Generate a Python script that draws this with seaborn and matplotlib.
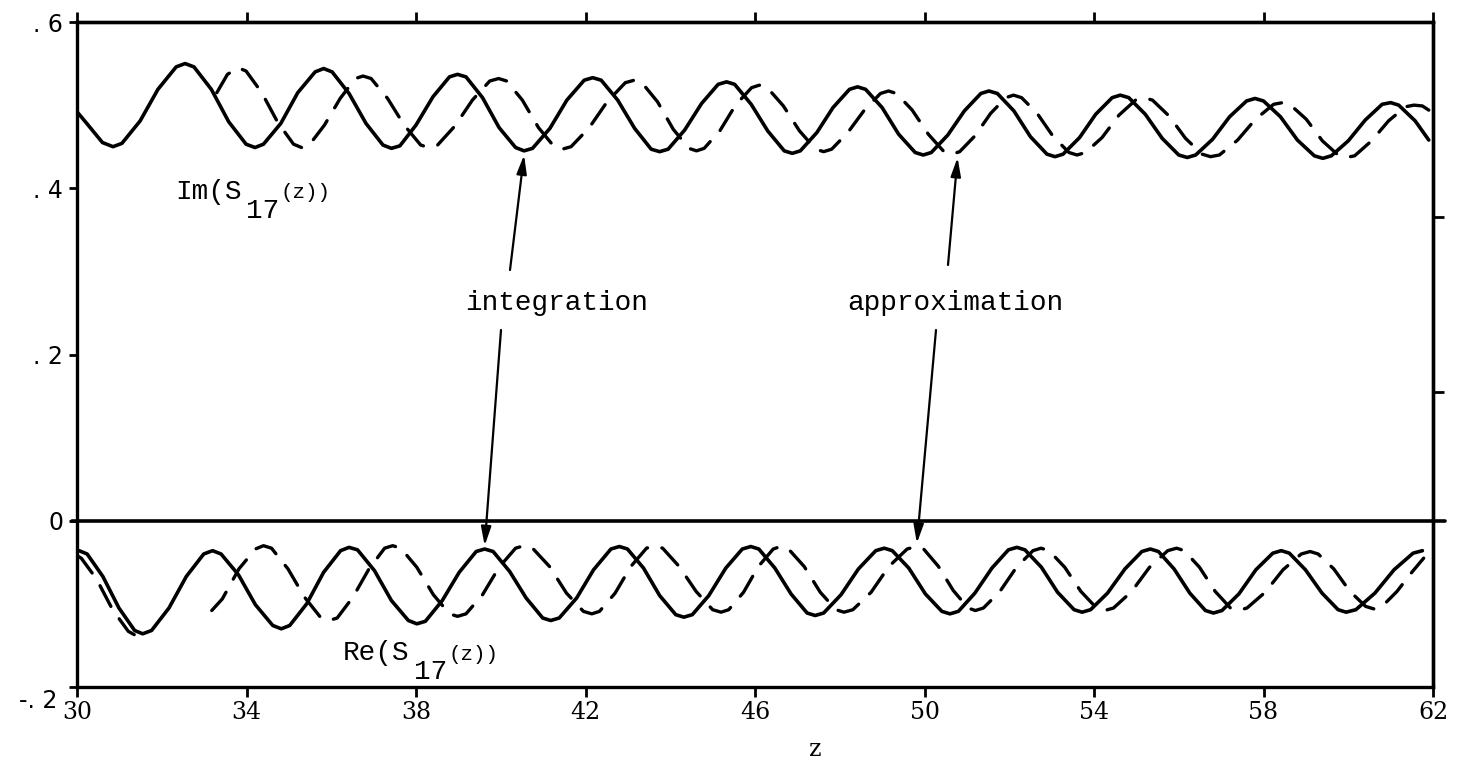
import numpy as np
import pandas as pd
import matplotlib
matplotlib.use("Agg")
import matplotlib.pyplot as plt
import matplotlib.transforms as mtrans
import seaborn as sns

# ---------------- data ----------------
# Im(S17(z)) by integration (solid)
im_int_z = [30.00, 30.23, 30.60, 30.85, 31.06, 31.49, 31.91, 32.34, 32.55, 32.76, 33.17, 33.58, 33.99, 34.20,
            34.40, 34.81, 35.21, 35.62, 35.82, 36.02, 36.42, 36.82, 37.22, 37.42, 37.62, 38.00, 38.40, 38.79,
            38.98, 39.18, 39.57, 39.96, 40.35, 40.55, 40.75, 41.16, 41.56, 41.97, 42.17, 42.37, 42.76, 43.16,
            43.55, 43.75, 43.95, 44.34, 44.74, 45.13, 45.33, 45.52, 45.91, 46.30, 46.69, 46.88, 47.07, 47.46,
            47.84, 48.23, 48.42, 48.61, 49.00, 49.39, 49.78, 49.97, 50.16, 50.55, 50.94, 51.33, 51.52, 51.72,
            52.11, 52.50, 52.89, 53.08, 53.27, 53.66, 54.04, 54.43, 54.62, 54.82, 55.21, 55.61, 56.00, 56.20,
            56.40, 56.80, 57.20, 57.60, 57.80, 58.00, 58.40, 58.80, 59.20, 59.40, 59.60, 60.00, 60.40, 60.80,
            61.00, 61.19, 61.58, 61.90]
im_int_v = [0.492, 0.478, 0.455, 0.450, 0.454, 0.481, 0.519, 0.546, 0.550, 0.546, 0.519, 0.480, 0.453, 0.449,
            0.453, 0.478, 0.515, 0.540, 0.544, 0.540, 0.514, 0.478, 0.452, 0.448, 0.451, 0.476, 0.510, 0.534,
            0.537, 0.534, 0.509, 0.473, 0.449, 0.445, 0.448, 0.472, 0.506, 0.530, 0.533, 0.530, 0.506, 0.472,
            0.447, 0.444, 0.447, 0.470, 0.502, 0.525, 0.528, 0.525, 0.501, 0.469, 0.445, 0.442, 0.445, 0.467,
            0.497, 0.519, 0.522, 0.519, 0.497, 0.465, 0.443, 0.440, 0.443, 0.464, 0.493, 0.514, 0.517, 0.514,
            0.493, 0.462, 0.441, 0.438, 0.441, 0.461, 0.489, 0.509, 0.512, 0.509, 0.489, 0.460, 0.440, 0.437,
            0.440, 0.459, 0.486, 0.505, 0.508, 0.505, 0.486, 0.458, 0.439, 0.436, 0.439, 0.457, 0.482, 0.501,
            0.503, 0.500, 0.481, 0.458]

# Im(S17(z)) by approximation (dashed)
im_app_z = [33.30, 33.55, 33.80, 33.99, 34.36, 34.74, 35.11, 35.30, 35.48, 35.84, 36.21, 36.57, 36.75, 36.94,
            37.33, 37.72, 38.11, 38.30, 38.51, 38.92, 39.33, 39.74, 39.95, 40.14, 40.51, 40.89, 41.26, 41.45,
            41.66, 42.09, 42.51, 42.94, 43.15, 43.33, 43.70, 44.07, 44.44, 44.62, 44.80, 45.17, 45.54, 45.92,
            46.10, 46.29, 46.67, 47.05, 47.43, 47.62, 47.81, 48.19, 48.58, 48.96, 49.15, 49.34, 49.71, 50.09,
            50.46, 50.65, 50.83, 51.19, 51.56, 51.92, 52.10, 52.29, 52.66, 53.04, 53.41, 53.60, 53.80, 54.19,
            54.59, 54.98, 55.18, 55.38, 55.77, 56.16, 56.55, 56.75, 56.96, 57.39, 57.81, 58.24, 58.45, 58.64,
            59.01, 59.39, 59.76, 59.95, 60.15, 60.55, 60.95, 61.35, 61.55, 61.75, 61.90]
im_app_v = [0.515, 0.537, 0.545, 0.541, 0.515, 0.479, 0.453, 0.449, 0.452, 0.476, 0.508, 0.532, 0.535, 0.532,
            0.508, 0.476, 0.452, 0.449, 0.452, 0.475, 0.506, 0.529, 0.532, 0.529, 0.506, 0.473, 0.450, 0.447,
            0.450, 0.473, 0.504, 0.527, 0.530, 0.527, 0.504, 0.471, 0.448, 0.445, 0.448, 0.469, 0.500, 0.521,
            0.524, 0.521, 0.499, 0.469, 0.447, 0.444, 0.447, 0.467, 0.494, 0.514, 0.517, 0.514, 0.494, 0.465,
            0.444, 0.441, 0.444, 0.463, 0.490, 0.509, 0.512, 0.509, 0.490, 0.462, 0.443, 0.440, 0.443, 0.461,
            0.488, 0.506, 0.509, 0.506, 0.487, 0.460, 0.441, 0.438, 0.440, 0.458, 0.483, 0.501, 0.503, 0.500,
            0.483, 0.457, 0.440, 0.437, 0.439, 0.457, 0.481, 0.498, 0.500, 0.499, 0.494]

# Re(S17(z)) by integration (solid)
re_int_z = [30.05, 30.24, 30.61, 30.99, 31.36, 31.55, 31.76, 32.17, 32.58, 32.99, 33.20, 33.40, 33.81, 34.21,
            34.62, 34.82, 35.02, 35.42, 35.82, 36.22, 36.42, 36.62, 37.02, 37.42, 37.82, 38.02, 38.22, 38.62,
            39.02, 39.42, 39.62, 39.82, 40.21, 40.60, 40.99, 41.18, 41.38, 41.79, 42.19, 42.60, 42.80, 42.99,
            43.37, 43.75, 44.13, 44.32, 44.52, 44.91, 45.31, 45.70, 45.90, 46.09, 46.47, 46.85, 47.23, 47.42,
            47.62, 48.03, 48.44, 48.85, 49.05, 49.24, 49.63, 50.02, 50.41, 50.60, 50.80, 51.19, 51.59, 51.98,
            52.18, 52.37, 52.76, 53.14, 53.53, 53.72, 53.92, 54.32, 54.73, 55.13, 55.33, 55.52, 55.89, 56.26,
            56.63, 56.82, 57.02, 57.42, 57.82, 58.22, 58.42, 58.61, 58.99, 59.38, 59.76, 59.95, 60.18, 60.63,
            61.08, 61.53, 61.75]
re_int_v = [-0.036, -0.040, -0.067, -0.105, -0.132, -0.136, -0.132, -0.105, -0.067, -0.040, -0.036, -0.040,
            -0.065, -0.101, -0.126, -0.130, -0.126, -0.100, -0.062, -0.036, -0.032, -0.035, -0.060, -0.096,
            -0.120, -0.124, -0.121, -0.096, -0.062, -0.037, -0.034, -0.037, -0.061, -0.093, -0.117, -0.120,
            -0.117, -0.093, -0.059, -0.034, -0.031, -0.034, -0.057, -0.090, -0.113, -0.116, -0.113, -0.090,
            -0.057, -0.034, -0.031, -0.034, -0.057, -0.088, -0.111, -0.114, -0.111, -0.089, -0.058, -0.036,
            -0.033, -0.036, -0.057, -0.088, -0.109, -0.112, -0.109, -0.087, -0.057, -0.035, -0.032, -0.035,
            -0.056, -0.086, -0.107, -0.110, -0.107, -0.087, -0.058, -0.037, -0.034, -0.037, -0.058, -0.087,
            -0.108, -0.111, -0.108, -0.088, -0.059, -0.039, -0.036, -0.039, -0.059, -0.087, -0.107, -0.110,
            -0.107, -0.087, -0.059, -0.039, -0.036]

# Re(S17(z)) by approximation (dashed): a short piece at the start and the main piece
re_app_a_z = [30.00, 30.10, 30.46, 30.84, 31.21, 31.35]
re_app_a_v = [-0.042, -0.045, -0.070, -0.107, -0.133, -0.137]
re_app_b_z = [33.18, 33.43, 33.82, 34.21, 34.40, 34.59, 34.98, 35.37, 35.76, 35.95, 36.14, 36.51, 36.89, 37.26,
              37.45, 37.64, 38.02, 38.41, 38.79, 38.98, 39.18, 39.57, 39.96, 40.35, 40.55, 40.75, 41.15, 41.55,
              41.95, 42.15, 42.33, 42.70, 43.07, 43.44, 43.62, 43.82, 44.21, 44.61, 45.00, 45.20, 45.38, 45.73,
              46.08, 46.43, 46.60, 46.79, 47.16, 47.54, 47.91, 48.10, 48.31, 48.74, 49.16, 49.59, 49.80, 49.98,
              50.33, 50.68, 51.03, 51.20, 51.39, 51.78, 52.17, 52.56, 52.75, 52.94, 53.31, 53.69, 54.06, 54.25,
              54.46, 54.89, 55.31, 55.74, 55.95, 56.13, 56.49, 56.86, 57.22, 57.40, 57.61, 58.04, 58.46, 58.89,
              59.10, 59.29, 59.66, 60.04, 60.41, 60.60, 60.80, 61.15, 61.50, 61.78]
re_app_b_v = [-0.108, -0.094, -0.058, -0.034, -0.030, -0.033, -0.058, -0.092, -0.117, -0.120, -0.117, -0.092,
              -0.058, -0.033, -0.030, -0.033, -0.056, -0.089, -0.112, -0.115, -0.112, -0.089, -0.056, -0.033,
              -0.030, -0.033, -0.055, -0.087, -0.109, -0.112, -0.109, -0.087, -0.055, -0.033, -0.030, -0.033,
              -0.055, -0.085, -0.107, -0.110, -0.107, -0.086, -0.055, -0.034, -0.031, -0.034, -0.055, -0.086,
              -0.107, -0.110, -0.107, -0.086, -0.055, -0.034, -0.031, -0.034, -0.055, -0.084, -0.105, -0.108,
              -0.105, -0.085, -0.056, -0.036, -0.033, -0.036, -0.056, -0.085, -0.105, -0.108, -0.105, -0.085,
              -0.056, -0.036, -0.033, -0.036, -0.056, -0.085, -0.105, -0.108, -0.105, -0.086, -0.059, -0.040,
              -0.037, -0.040, -0.058, -0.085, -0.103, -0.106, -0.103, -0.085, -0.062, -0.045]

x_ticks = [30, 34, 38, 42, 46, 50, 54, 58, 62]
x_tick_labels = ["30", "34", "38", "42", "46", "50", "54", "58", "62"]
y_ticks = [-0.2, 0.0, 0.2, 0.4, 0.6]
y_tick_labels = ["-. 2", "0", ". 2", ". 4", ". 6"]
right_ticks = [0.155, 0.365]

# ---------------- build long table ----------------
def part(z, v, method, seg):
    n = min(len(z), len(v))
    return pd.DataFrame({"z": z[:n], "value": v[:n], "method": method, "seg": seg})

df = pd.concat([
    part(im_int_z, im_int_v, "integration", "im"),
    part(re_int_z, re_int_v, "integration", "re"),
    part(im_app_z, im_app_v, "approximation", "im"),
    part(re_app_a_z, re_app_a_v, "approximation", "re_a"),
    part(re_app_b_z, re_app_b_v, "approximation", "re_b"),
], ignore_index=True)

# ---------------- figure ----------------
sns.set_theme(style="ticks")
plt.rcParams["font.family"] = ["DejaVu Sans"]
plt.rcParams["text.color"] = "black"
plt.rcParams["axes.labelcolor"] = "black"
plt.rcParams["xtick.color"] = "black"
plt.rcParams["ytick.color"] = "black"
plt.rcParams["axes.edgecolor"] = "black"

W, H = 1468, 764
fig = plt.figure(figsize=(W / 100, H / 100), dpi=100)
ax = fig.add_axes([77 / W, 1 - 687 / H, (1433 - 77) / W, (687 - 22) / H])

sns.lineplot(data=df[df.method == "integration"], x="z", y="value", units="seg",
             estimator=None, sort=False, color="black", lw=2.6,
             solid_capstyle="round", solid_joinstyle="round", ax=ax)
sns.lineplot(data=df[df.method == "approximation"], x="z", y="value", units="seg",
             estimator=None, sort=False, color="black", lw=2.4,
             linestyle=(0, (7, 4.5)), dash_capstyle="round", dash_joinstyle="round", ax=ax)

ax.axhline(0, color="black", lw=2.6, xmin=-0.004, xmax=1.009, clip_on=False)

ax.set_xlim(30, 62)
ax.set_ylim(-0.2, 0.6)
ax.set_xlabel("")
ax.set_ylabel("")
ax.set_xticks(x_ticks)
ax.set_xticklabels(x_tick_labels, fontfamily="DejaVu Serif", fontsize=17, color="black")
ax.set_yticks(y_ticks)
ax.set_yticklabels(y_tick_labels, fontsize=17, color="black")
ax.tick_params(axis="x", direction="out", length=7, width=2, pad=3, top=False, colors="black")
ax.tick_params(axis="y", direction="out", length=6, width=2, pad=4, right=False, colors="black")
for s in ax.spines.values():
    s.set_linewidth(2.4)
    s.set_color("black")

lab = ax.get_yticklabels()[0]
lab.set_transform(lab.get_transform() + mtrans.ScaledTranslation(-4 / 72, -8 / 72, fig.dpi_scale_trans))

secx = ax.secondary_xaxis("top")
secx.set_xticks(x_ticks)
secx.tick_params(direction="out", length=7, width=2, labeltop=False, colors="black")
secx.spines["top"].set_linewidth(2.4)
secy = ax.secondary_yaxis("right")
secy.set_yticks(right_ticks)
secy.tick_params(direction="out", length=8, width=2, labelright=False, colors="black")
secy.spines["right"].set_linewidth(2.4)

def P(x, y):
    return (x / W, 1 - y / H)

mono = "Liberation Mono"
fig.text(*P(175, 192), "Im(S", family=mono, size=20, va="center", ha="left", color="black")
fig.text(*P(246, 211), "17", family=mono, size=20, va="center", ha="left", color="black")
fig.text(*P(281, 193), "(z))", family=mono, size=15, va="center", ha="left", color="black")

fig.text(*P(343, 653), "Re(S", family=mono, size=20, va="center", ha="left", color="black")
fig.text(*P(414, 672), "17", family=mono, size=20, va="center", ha="left", color="black")
fig.text(*P(449, 654), "(z))", family=mono, size=15, va="center", ha="left", color="black")

fig.text(*P(465, 303), "integration", family=mono, size=20, va="center", ha="left", color="black")
fig.text(*P(847, 303), "approximation", family=mono, size=20, va="center", ha="left", color="black")
fig.text(*P(815, 750), "z", family="DejaVu Serif", size=17, va="center", ha="center", color="black")

aprops = dict(arrowstyle="-|>,head_length=0.75,head_width=0.2", lw=1.6, color="black",
              shrinkA=0, shrinkB=0, mutation_scale=15)
ax.annotate("", xy=(40.55, 0.440), xycoords="data", xytext=(510, H - 270), textcoords="figure pixels",
            arrowprops=aprops)
ax.annotate("", xy=(39.62, -0.030), xycoords="data", xytext=(501, H - 330), textcoords="figure pixels",
            arrowprops=aprops)
ax.annotate("", xy=(50.78, 0.437), xycoords="data", xytext=(948, H - 265), textcoords="figure pixels",
            arrowprops=aprops)
ax.annotate("", xy=(49.82, -0.027), xycoords="data", xytext=(936, H - 330), textcoords="figure pixels",
            arrowprops=aprops)

fig.savefig("out.png", dpi=100)
